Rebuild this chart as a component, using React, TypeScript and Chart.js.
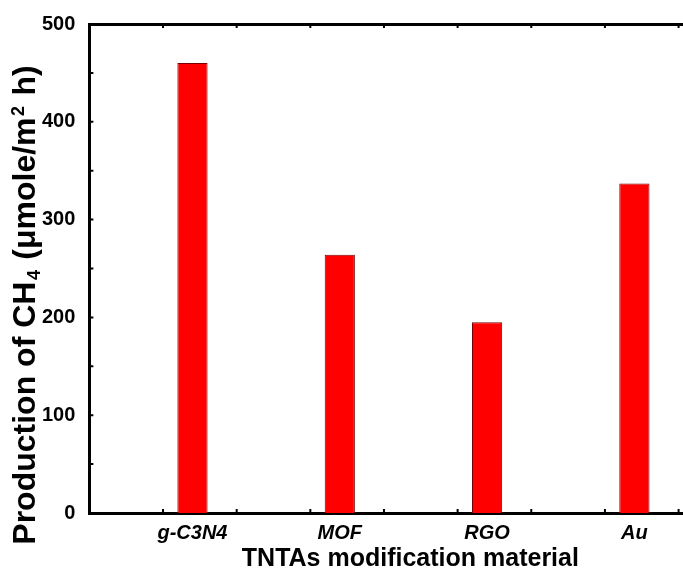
import React, { useEffect, useRef } from "react";
import { Chart, registerables } from "chart.js";

Chart.register(...registerables);

const categories = ["g-C3N4", "MOF", "RGO", "Au"];
const production = [460, 264, 195, 337];
const categoryPositions = [1, 2, 3, 4];
const yTickStep = 100;
const yMinorStep = 50;
const xMinorTicks = [0.8, 1.3, 1.8, 2.3, 2.8, 3.3, 3.8, 4.3];
const xTitle = "TNTAs modification material";
// y title pieces: [text, kind]
const yTitleParts: [string, string][] = [
  ["Production of CH", "n"],
  ["4", "sub"],
  [" (\u03bcmole/m", "n"],
  ["2", "sup"],
  [" h)", "n"],
];

const FONT = "'Liberation Sans', Arial, sans-serif";

const inwardTicks = {
  id: "inwardTicks",
  afterDraw(chart: any) {
    const ctx = chart.ctx;
    const y = chart.scales.y;
    const x = chart.scales.x;
    const area = chart.chartArea;
    ctx.save();
    ctx.strokeStyle = "#000";
    ctx.lineWidth = 2;
    ctx.beginPath();
    for (let v = y.min; v <= y.max; v += yMinorStep) {
      const py = y.getPixelForValue(v);
      ctx.moveTo(area.left, py);
      ctx.lineTo(area.left + 4, py);
    }
    for (const v of xMinorTicks) {
      const px = x.getPixelForValue(v);
      ctx.moveTo(px, area.bottom);
      ctx.lineTo(px, area.bottom - 4);
      ctx.moveTo(px, area.top);
      ctx.lineTo(px, area.top + 4);
    }
    ctx.stroke();
    ctx.restore();
  },
};

const axisTitles = {
  id: "axisTitles",
  afterDraw(chart: any) {
    const ctx = chart.ctx;
    const area = chart.chartArea;
    ctx.save();
    ctx.fillStyle = "#000";
    // x title
    ctx.font = `bold 25px ${FONT}`;
    ctx.textAlign = "center";
    ctx.textBaseline = "alphabetic";
    ctx.fillText(xTitle, area.left + 321, chart.height - 2);
    // y title (rotated, with sub/superscript)
    const big = `bold 32px ${FONT}`;
    const small = `bold 18px ${FONT}`;
    let total = 0;
    for (const [t, k] of yTitleParts) {
      ctx.font = k === "n" ? big : small;
      total += ctx.measureText(t).width + (k === "n" ? 0 : 3);
    }
    const cy = area.bottom - 208;
    ctx.translate(35, cy);
    ctx.rotate(-Math.PI / 2);
    ctx.textAlign = "left";
    let cx = -total / 2;
    for (const [t, k] of yTitleParts) {
      ctx.font = k === "n" ? big : small;
      const dy = k === "sub" ? 5 : k === "sup" ? -11 : 0;
      if (k !== "n") cx += 1.5;
      ctx.fillText(t, cx, dy);
      cx += ctx.measureText(t).width + (k !== "n" ? 1.5 : 0);
    }
    ctx.restore();
  },
};

export default function App() {
  const ref = useRef<HTMLCanvasElement>(null);
  useEffect(() => {
    document.body.style.margin = "0";
    const chart = new Chart(ref.current!, {
      type: "bar",
      data: {
        datasets: [
          {
            data: categoryPositions.map((p, i) => ({ x: p, y: production[i] })),
            backgroundColor: "#ff0000",
            borderColor: "#7a0000",
            borderWidth: 1,
            barPercentage: 0.205,
            categoryPercentage: 1,
          },
        ],
      },
      options: {
        animation: false,
        responsive: false,
        layout: { padding: { top: 24, right: 0, left: 36, bottom: 23 } },
        plugins: { legend: { display: false }, tooltip: { enabled: false } },
        scales: {
          x: {
            type: "linear",
            position: "bottom",
            offset: false,
            min: 0.3,
            max: 4.33,
            afterBuildTicks: (scale: any) => {
              scale.ticks = categoryPositions.map((v) => ({ value: v }));
            },
            ticks: {
              autoSkip: false,
              maxRotation: 0,
              padding: 0,
              color: "#000",
              font: { family: FONT, size: 20, weight: "bold", style: "italic" },
              callback: (v: any) => categories[categoryPositions.indexOf(Number(v))] ?? "",
            },
            grid: { display: false },
            border: { display: true, color: "#000", width: 3 },
          },
          x2: {
            type: "linear",
            position: "top",
            offset: false,
            min: 0.3,
            max: 4.33,
            ticks: { display: false },
            grid: { display: false, drawTicks: false },
            border: { display: true, color: "#000", width: 3 },
          },
          y: {
            min: 0,
            max: 500,
            ticks: {
              stepSize: yTickStep,
              padding: 6,
              color: "#000",
              font: { family: FONT, size: 20, weight: "bold" },
            },
            grid: { display: false },
            border: { display: true, color: "#000", width: 3 },
          },
        },
      },
      plugins: [inwardTicks, axisTitles],
    } as any);
    return () => chart.destroy();
  }, []);
  return <canvas ref={ref} width={683} height={568} style={{ display: "block" }} />;
}
